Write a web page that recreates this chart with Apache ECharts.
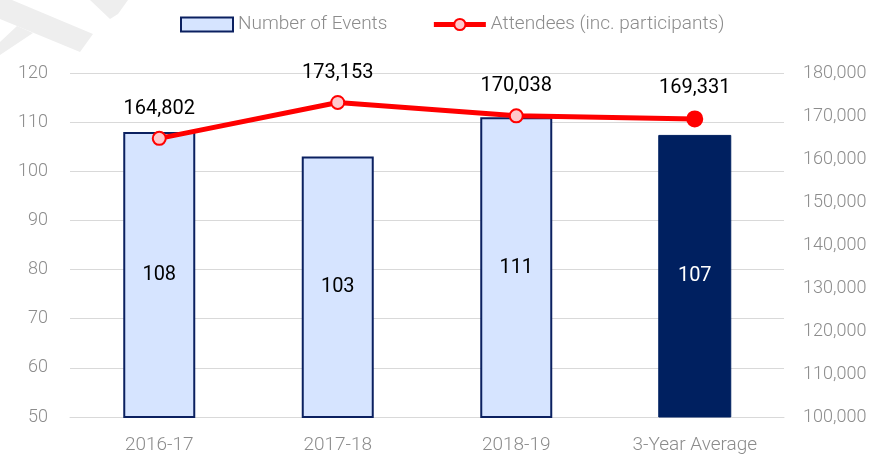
<!DOCTYPE html>
<html>
<head>
<meta charset="utf-8">
<script src="https://cdn.jsdelivr.net/npm/echarts@6/dist/echarts.min.js"></script>
<style>
  html, body { margin: 0; padding: 0; background: #fff; }
  #chart { width: 876px; height: 455px; }
</style>
</head>
<body>
<div id="chart"></div>
<script>
const categories = ['2016-17', '2017-18', '2018-19', '3-Year Average']
const eventCounts = [108, 103, 111, 107.3]
const eventLabels = ['108', '103', '111', '107']
const attendees = [164802, 173153, 170038, 169331]

const chart = echarts.init(document.getElementById('chart'))

const gray = '#8c8c8c'
const fontFamily = 'Roboto, sans-serif'
const fmt = v => v.toLocaleString('en-US')

// faint watermark fragments in the top-left corner
const wmColor = '#eeeeee'

const option = {
  animation: false,
  textStyle: { fontFamily: fontFamily },
  graphic: [
    { type: 'polygon', z: -10, shape: { points: [[0, 0], [12, 0], [93, 34], [80, 52], [0, 19]] }, style: { fill: wmColor } },
    { type: 'polygon', z: -10, shape: { points: [[0, 42], [17, 26], [33, 33], [0, 55]] }, style: { fill: wmColor } },
    { type: 'polygon', z: -10, shape: { points: [[90, 0], [128, 0], [118, 14], [110, 19]] }, style: { fill: wmColor } }
  ],
  legend: {
    top: 10,
    left: 175,
    itemGap: 44,
    textStyle: { color: gray, fontSize: 19, fontWeight: 300, fontFamily: fontFamily },
    data: [
      { name: 'Number of Events', icon: 'rect', itemStyle: { color: '#d6e4ff', borderColor: '#0b2060', borderWidth: 2 } },
      { name: 'Attendees (inc. participants)', lineStyle: { color: '#ff0000', width: 5 } }
    ],
    itemWidth: 52,
    itemHeight: 14
  },
  grid: { left: 70, right: 92, top: 73, bottom: 37 },
  xAxis: {
    type: 'category',
    data: categories,
    axisLine: { lineStyle: { color: '#d9d9d9' } },
    axisTick: { show: false },
    axisLabel: { color: gray, fontSize: 19, fontWeight: 300, margin: 19 }
  },
  yAxis: [
    {
      type: 'value',
      min: 50, max: 120, interval: 10,
      axisLabel: { color: gray, fontSize: 18, fontWeight: 300, margin: 22 },
      splitLine: { lineStyle: { color: '#d9d9d9' } }
    },
    {
      type: 'value',
      min: 100000, max: 180000, interval: 10000,
      axisLabel: { color: gray, fontSize: 18, fontWeight: 300, margin: 19, formatter: fmt },
      splitLine: { show: false }
    }
  ],
  series: [
    {
      name: 'Number of Events',
      type: 'bar',
      barWidth: 72,
      data: eventCounts.map((v, i) => ({
        value: v,
        itemStyle: i === 3
          ? { color: '#002060', borderColor: '#002060' }
          : { color: '#d6e4ff', borderColor: '#0b2060', borderWidth: 2 },
        label: { color: i === 3 ? '#fff' : '#000' }
      })),
      label: {
        show: true,
        position: 'inside',
        fontSize: 20,
        formatter: p => eventLabels[p.dataIndex]
      }
    },
    {
      name: 'Attendees (inc. participants)',
      type: 'line',
      yAxisIndex: 1,
      symbol: 'circle',
      symbolSize: 13,
      lineStyle: { color: '#ff0000', width: 5 },
      itemStyle: { color: '#ffc8cc', borderColor: '#ff0000', borderWidth: 2 },
      data: attendees.map((v, i) => i === 3
        ? { value: v, symbolSize: 15, itemStyle: { color: '#ff0000', borderColor: '#ff0000' } }
        : v),
      label: {
        show: true,
        position: 'top',
        distance: 12,
        color: '#000',
        fontSize: 20,
        formatter: p => fmt(p.value)
      }
    }
  ]
}

chart.setOption(option)
</script>
</body>
</html>
